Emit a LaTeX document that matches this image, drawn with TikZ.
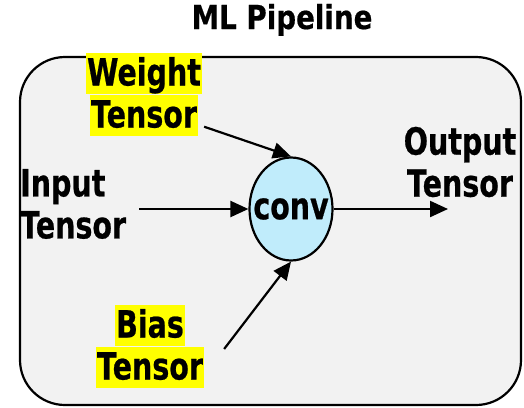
\documentclass[tikz,border=0pt]{standalone}
\usepackage{fontspec}
\setmainfont{DejaVu Sans}[FakeStretch=0.76,FakeBold=0.6]
\newfontfamily\headfont{DejaVu Sans}[FakeStretch=0.84,FakeBold=0.5]
\usetikzlibrary{shapes.geometric,arrows.meta,calc}
\definecolor{panelgray}{RGB}{242,242,242}
\definecolor{opblue}{RGB}{192,236,251}
\definecolor{hlyellow}{RGB}{255,255,0}
% one highlighted line of a label
\newcommand{\hlline}[1]{{\setlength{\fboxsep}{0pt}\colorbox{hlyellow}{\rule[-8pt]{0pt}{41pt}\hspace{1pt}#1\hspace{1pt}}}}
\begin{document}
\begin{tikzpicture}[x=1pt,y=-1pt,
  lbl/.style={font=\fontsize{37.5}{42}\selectfont\bfseries, inner sep=0pt, text=black},
  hllbl/.style={lbl, align=center},
  flow/.style={line width=2.2pt, -{Triangle[length=18pt,width=16pt]}},
  opnode/.style={ellipse, draw=black, line width=2.2pt, fill=opblue, inner sep=0pt,
    minimum width=83pt, minimum height=103pt}]
\useasboundingbox (0,0) rectangle (524,407);
\fill[white] (0,0) rectangle (524,407);

% pipeline container
\node[draw=black, line width=2.2pt, fill=panelgray, rounded corners=45pt,
      minimum width=501pt, minimum height=348pt, inner sep=0pt] (pipeline) at (270.5,231) {};
\node[font=\headfont\fontsize{33}{36}\selectfont\bfseries, anchor=base, inner sep=0pt] (title) at (282,29) {ML Pipeline};

% operator
\node[opnode] (conv) at (291,209) {};
\node[lbl] (convtext) at (conv.center) {conv};

% tensors
\node[lbl, align=left, anchor=west] (input) at (20,204) {Input\\Tensor};
\node[lbl, align=center] (output) at (460,162) {Output\\Tensor};
\node[hllbl] (weight) at (144,94) {\hlline{Weight}\\ \hlline{Tensor}};
\node[hllbl] (bias) at (150,346) {\hlline{Bias}\\ \hlline{Tensor}};
\coordinate (outend) at (448,209);

% data flow
\draw[flow] ($(input.east |- conv.west)+(13,0)$) -- (conv.west);
\draw[flow] (conv.east) -- (outend);
\draw[flow] ($(weight.south east)+(2,-9)$) -- (conv.north);
\draw[flow] ($(bias.east)+(20,3)$) -- (conv.south);
\end{tikzpicture}
\end{document}
